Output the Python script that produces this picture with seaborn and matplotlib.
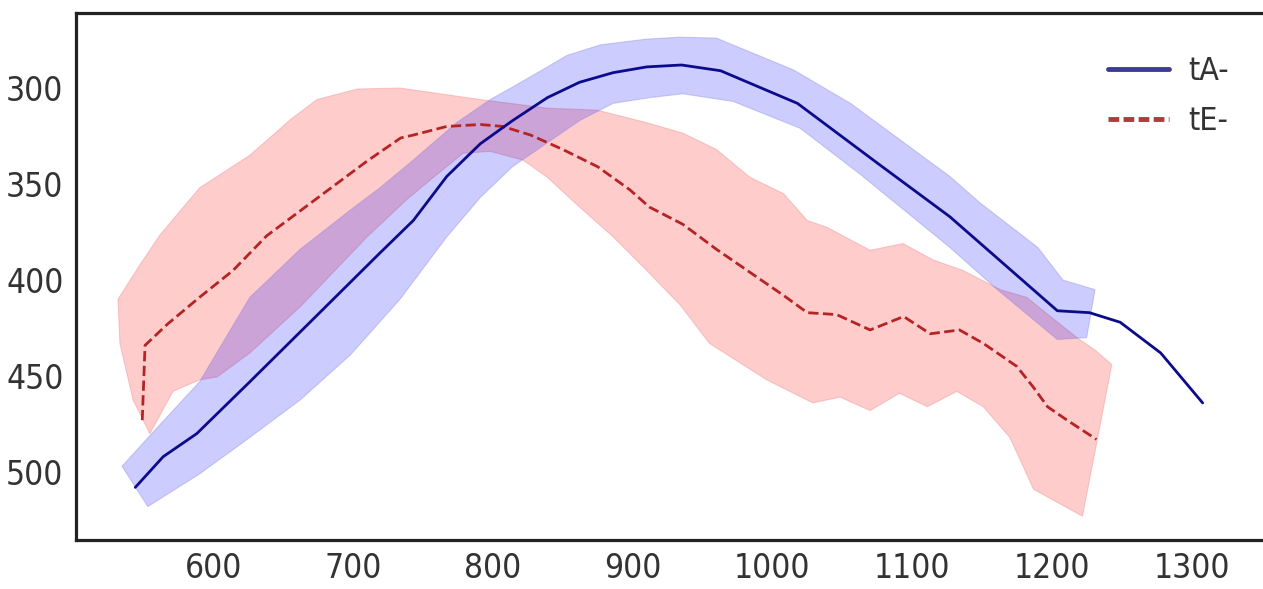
import matplotlib
matplotlib.use("Agg")
import matplotlib.pyplot as plt
from matplotlib import font_manager
from matplotlib.lines import Line2D
import seaborn as sns
import pandas as pd

# ---- mean trajectories -------------------------------------------------
ta_x = [544, 564, 588, 626, 676, 719, 743, 767, 791, 814, 839, 862, 886, 910,
        935, 963, 1018, 1075, 1127, 1204, 1227, 1249, 1278, 1308]
ta_y = [508, 492, 480, 453, 417, 386, 369, 346, 329, 317, 305, 297, 292, 289,
        288, 291, 308, 339, 367, 416, 417, 422, 438, 464]

te_x = [549, 551, 567, 590, 614, 638, 662, 686, 710, 734, 743, 767, 791, 807,
        827, 850, 875, 898, 912, 936, 960, 984, 1008, 1025, 1046, 1070, 1094,
        1113, 1134, 1151, 1175, 1187, 1197, 1211, 1232]
te_y = [473, 434, 423, 409, 395, 377, 364, 351, 338, 326, 324.5, 320, 319, 320,
        324.5, 332, 341, 353, 362, 371, 384, 396, 408, 417, 418, 426, 419,
        428, 426, 433, 445, 456, 466, 473, 483]

# ---- spread envelopes (upper and lower outlines) -----------------------
ta_hi_x = [534.5, 554.5, 590, 626, 662, 698, 719, 743, 774, 798, 814, 839, 853,
           877, 910, 934, 960, 1015, 1056, 1127, 1149, 1190, 1208, 1231]
ta_hi_y = [497, 481, 453, 409, 384, 363.5, 352, 337.5, 318, 306, 299.5, 289,
           283, 277.5, 274.5, 273.5, 274, 290.5, 308, 346, 360, 383, 400, 405]
ta_lo_x = [553, 590, 626, 662, 698, 733.5, 767, 791, 814, 839, 862, 886, 912.5,
           936, 972, 1020, 1063, 1127, 1161, 1204, 1225]
ta_lo_y = [518, 501, 482, 462.5, 439, 410, 377.5, 357, 341, 328.5, 317, 308,
           305, 303, 307, 321, 345, 383, 405, 431, 430]

te_hi_x = [531.6, 547.4, 561.7, 590, 626, 655, 674, 703, 733.5, 791, 839, 874.5,
           910, 936, 960, 984, 1008, 1025, 1039, 1070, 1093.5, 1115, 1136.5,
           1163, 1182, 1218, 1231, 1243]
te_hi_y = [410, 392, 376.5, 352, 335, 316.5, 306, 300.5, 300, 306, 310.5, 311.5,
           318, 323.5, 332, 346.5, 355, 369, 372.5, 384.5, 381, 389.5, 395,
           405, 409, 430, 436.5, 444]
te_lo_x = [531.6, 533, 542.4, 554.5, 571, 590, 602.5, 626, 662, 710, 738.5, 755,
           778.6, 798, 821.5, 839, 862, 886, 910, 934, 955, 996, 1029, 1048.5,
           1070, 1091, 1111, 1132, 1151, 1170, 1187, 1222]
te_lo_y = [410, 433, 462.5, 480, 458, 452, 450.5, 438, 414, 377.5, 358, 348,
           334, 333, 337.5, 346.5, 362, 377.5, 395, 413, 433, 452, 464, 461,
           468, 459, 466, 458, 466, 482, 509, 523]

labels = ["tA-", "tE-"]
ticks_x = [600, 700, 800, 900, 1000, 1100, 1200, 1300]
ticks_y = [300, 350, 400, 450, 500]

sns.set_style("white")

# use the condensed cut of DejaVu Sans when the system provides it
stretch = "normal"
for f in font_manager.fontManager.ttflist:
    if f.name == "DejaVu Sans" and "ondensed" in f.fname:
        stretch = "condensed"
        break
plt.rcParams["font.family"] = ["DejaVu Sans"]

fig = plt.figure(figsize=(12.63, 5.89), dpi=100)
ax = fig.add_axes([0.0602, 0.0832, 0.9398, 0.8948])

blue_line = "#0b0b8c"
red_line = "#b52424"

# envelopes: blue drawn over red so the overlap reads as mauve
ax.fill(te_hi_x + te_lo_x[::-1], te_hi_y + te_lo_y[::-1],
        facecolor=(1.0, 0.0, 0.0, 0.2), edgecolor=(0.9, 0.5, 0.5, 0.35),
        linewidth=0.8, zorder=1)
ax.fill(ta_hi_x + ta_lo_x[::-1], ta_hi_y + ta_lo_y[::-1],
        facecolor=(0.0, 0.0, 1.0, 0.2), edgecolor=(0.5, 0.5, 0.85, 0.35),
        linewidth=0.8, zorder=2)

df_a = pd.DataFrame({"x": ta_x, "y": ta_y})
df_e = pd.DataFrame({"x": te_x, "y": te_y})
sns.lineplot(data=df_a, x="x", y="y", sort=False, estimator=None, ax=ax,
             color=blue_line, linewidth=2.0, zorder=4)
sns.lineplot(data=df_e, x="x", y="y", sort=False, estimator=None, ax=ax,
             color=red_line, linewidth=2.0, linestyle="--", zorder=3)

ax.set_xlim(501.6, 1351.2)
ax.set_ylim(535.4, 260.9)
ax.set_xticks(ticks_x)
ax.set_yticks(ticks_y)
ax.set_xlabel("")
ax.set_ylabel("")
ax.tick_params(axis="both", length=0, labelsize=24, labelcolor="#333333")
ax.tick_params(axis="y", pad=9)
ax.tick_params(axis="x", pad=9)
for lab in ax.get_xticklabels() + ax.get_yticklabels():
    lab.set_fontstretch(stretch)

for side in ["left", "top", "bottom"]:
    ax.spines[side].set_visible(True)
    ax.spines[side].set_color("#222222")
    ax.spines[side].set_linewidth(2.3)
ax.spines["right"].set_visible(False)

handles = [Line2D([], [], color="#3c3c98", linewidth=3.5),
           Line2D([], [], color="#b23a3a", linewidth=3.5, linestyle=(0, (2.2, 0.9)))]
leg = ax.legend(handles, labels, loc="upper left",
                bbox_to_anchor=(1108 / 1263, 1 - 56 / 589),
                bbox_transform=fig.transFigure, frameon=False,
                fontsize=23, borderpad=0, borderaxespad=0,
                handlelength=1.9, handletextpad=0.6, labelspacing=0.6)
for t in leg.get_texts():
    t.set_color("#333333")
    t.set_fontstretch(stretch)

fig.savefig("out.png", dpi=100)
